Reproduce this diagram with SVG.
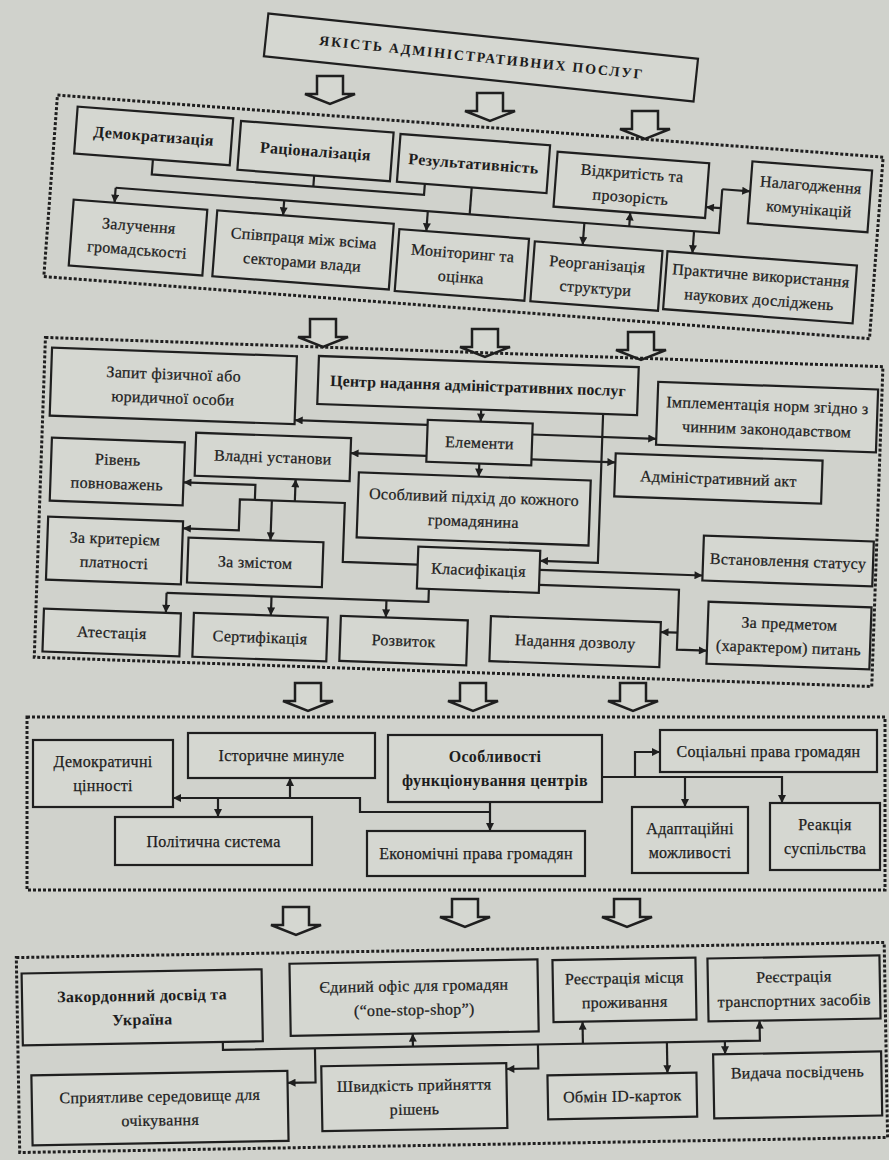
<svg xmlns="http://www.w3.org/2000/svg" width="889" height="1160" viewBox="0 0 889 1160">
<defs>
<marker id="ah" viewBox="0 0 10 10" refX="10" refY="5" markerWidth="9" markerHeight="8" markerUnits="userSpaceOnUse" orient="auto"><path d="M0,0 L10,5 L0,10 Z" fill="#1f1f1f"/></marker>
<path id="bigArrow" d="M-13,0 H13 V18 H25 L0,28 L-25,18 H-13 Z"/>
<style>
.box{fill:#d5d7d1;stroke:#1f1f1f;stroke-width:2.2}
.frame{fill:none;stroke:#1f1f1f;stroke-width:3;stroke-dasharray:3 2}
.t{font-family:"Liberation Serif","DejaVu Serif",serif;font-size:16px;letter-spacing:0.3px;fill:#1d1d1d;stroke:#1d1d1d;stroke-width:0.25px;text-anchor:middle}
.b{font-weight:bold;stroke-width:0}
.c{fill:none;stroke:#1f1f1f;stroke-width:2.2}
.a{marker-end:url(#ah)}
.big{fill:#d5d7d1;stroke:#1f1f1f;stroke-width:2.5}
</style>
</defs>
<rect width="889" height="1160" fill="#d0d2cc"/>

<g id="title" transform="rotate(6 481 57)">
<rect class="box" x="265" y="36" width="432" height="43"/>
<text class="t b" x="481" y="62" textLength="325" style="font-size:14px">ЯКІСТЬ АДМІНІСТРАТИВНИХ ПОСЛУГ</text>
</g>

<g id="flow-arrows">
<use href="#bigArrow" class="big" transform="translate(330,76)"/>
<use href="#bigArrow" class="big" transform="translate(490,93)"/>
<use href="#bigArrow" class="big" transform="translate(645,111)"/>
<use href="#bigArrow" class="big" transform="translate(323,319)"/>
<use href="#bigArrow" class="big" transform="translate(485,329)"/>
<use href="#bigArrow" class="big" transform="translate(641,332)"/>
<use href="#bigArrow" class="big" transform="translate(308,683)"/>
<use href="#bigArrow" class="big" transform="translate(473,683)"/>
<use href="#bigArrow" class="big" transform="translate(633,683)"/>
<use href="#bigArrow" class="big" transform="translate(296,907)"/>
<use href="#bigArrow" class="big" transform="translate(465,899)"/>
<use href="#bigArrow" class="big" transform="translate(627,899)"/>
</g>

<g id="section1" transform="rotate(4.3 465 210)">
<rect class="frame" x="50" y="126" width="828" height="182"/>
<g id="connectors-1">
<path class="c" d="M150,183 V198 H423 V187"/>
<path class="c" d="M312,187 V198"/>
<path class="c" d="M470,187 V214"/>
<path class="c" d="M115,214 H720 V170"/>
<path class="c a" d="M720,170 H748"/>
<path class="c a" d="M720,189 H705"/>
<path class="c a" d="M115,214 V229"/>
<path class="c a" d="M284,214 V229"/>
<path class="c a" d="M428,214 V234"/>
<path class="c a" d="M585,214 V236"/>
<path class="c a" d="M695,214 V236"/>
<path class="c a" d="M630,214 V200"/>
</g>
<g id="n-demokratyzatsiia"><rect class="box" x="71" y="136" width="156" height="47"/><text class="t b" x="149" y="165">Демократизація</text></g>
<g id="n-ratsionalizatsiia"><rect class="box" x="235" y="138" width="153" height="49"/><text class="t b" x="311.5" y="168">Раціоналізація</text></g>
<g id="n-rezultatyvnist"><rect class="box" x="395" y="139" width="150" height="48"/><text class="t b" x="470" y="168.5">Результативність</text></g>
<g id="n-vidkrytist"><rect class="box" x="553" y="145" width="152" height="55"/><text class="t" x="629" y="166">Відкритість та</text><text class="t" x="629" y="190">прозорість</text></g>
<g id="n-nalagodzhennia"><rect class="box" x="748" y="140" width="120" height="62"/><text class="t" x="808" y="164.5">Налагодження</text><text class="t" x="808" y="188.5">комунікацій</text></g>
<g id="n-zaluchennia"><rect class="box" x="74" y="229" width="134" height="66"/><text class="t" x="141" y="255.5">Залучення</text><text class="t" x="141" y="279.5">громадськості</text></g>
<g id="n-spivpratsia"><rect class="box" x="218" y="229" width="177" height="66"/><text class="t" x="306.5" y="255.5">Співпраця між всіма</text><text class="t" x="306.5" y="279.5">секторами влади</text></g>
<g id="n-monitoryng"><rect class="box" x="401" y="234" width="130" height="62"/><text class="t" x="466" y="258.5">Моніторинг та</text><text class="t" x="466" y="282.5">оцінка</text></g>
<g id="n-reorganizatsiia"><rect class="box" x="537" y="236" width="128" height="60"/><text class="t" x="601" y="259.5">Реорганізація</text><text class="t" x="601" y="283.5">структури</text></g>
<g id="n-praktychne"><rect class="box" x="670" y="236" width="190" height="58"/><text class="t" x="765" y="258.5">Практичне використання</text><text class="t" x="765" y="282.5">наукових досліджень</text></g>
</g>

<g id="section2" transform="rotate(2 460 500)">
<rect class="frame" x="40" y="352" width="838" height="320"/>
<g id="connectors-2">
<path class="c a" d="M478,409 V421"/>
<path class="c a" d="M425,426 H292"/>
<path class="c a" d="M425,457 H349"/>
<path class="c a" d="M530,432 H654"/>
<path class="c a" d="M530,457 H614"/>
<path class="c a" d="M478,463 V476"/>
<path class="c a" d="M600,409 V558 H542"/>
<path class="c a" d="M542,567 H705"/>
<path class="c a" d="M542,582 H682 V642 H712"/>
<path class="c a" d="M682,625 H665"/>
<path class="c" d="M432,590 V603 H170"/>
<path class="c a" d="M170,603 V623"/>
<path class="c a" d="M275,603 V622"/>
<path class="c a" d="M390,603 V620"/>
<path class="c a" d="M420,566 H345 V507 H240 V538 H184"/>
<path class="c a" d="M295,507 V485"/>
<path class="c a" d="M272,507 V547"/>
<path class="c a" d="M255,507 V492 H183"/>
</g>
<g id="n-zapyt"><rect class="box" x="47" y="362" width="245" height="68"/><text class="t" x="169.5" y="389.5">Запит фізичної або</text><text class="t" x="169.5" y="413.5">юридичної особи</text></g>
<g id="n-tsentr"><rect class="box" x="314" y="361" width="320" height="48"/><text class="t b" x="474" y="390.5" style="letter-spacing:0">Центр надання адміністративних послуг</text></g>
<g id="n-vladni"><rect class="box" x="194" y="442" width="155" height="43"/><text class="t" x="271.5" y="469">Владні установи</text></g>
<g id="n-riven"><rect class="box" x="50" y="452" width="133" height="63"/><text class="t" x="116.5" y="477">Рівень</text><text class="t" x="116.5" y="501">повноважень</text></g>
<g id="n-elementy"><rect class="box" x="425" y="421" width="105" height="42"/><text class="t" x="477.5" y="447.5">Елементи</text></g>
<g id="n-osoblyvyi"><rect class="box" x="358" y="476" width="232" height="65"/><text class="t" x="474" y="502">Особливий підхід до кожного</text><text class="t" x="474" y="526">громадянина</text></g>
<g id="n-implementatsiia"><rect class="box" x="654" y="375" width="220" height="63"/><text class="t" x="764" y="400">Імплементація норм згідно з</text><text class="t" x="764" y="424">чинним законодавством</text></g>
<g id="n-akt"><rect class="box" x="614" y="448" width="207" height="43"/><text class="t" x="717.5" y="475">Адміністративний акт</text></g>
<g id="n-platnist"><rect class="box" x="49" y="531" width="135" height="63"/><text class="t" x="116.5" y="556">За критерієм</text><text class="t" x="116.5" y="580">платності</text></g>
<g id="n-zmist"><rect class="box" x="190" y="547" width="135" height="45"/><text class="t" x="257.5" y="575">За змістом</text></g>
<g id="n-klasyfikatsiia"><rect class="box" x="420" y="548" width="122" height="42"/><text class="t" x="481" y="574.5">Класифікація</text></g>
<g id="n-status"><rect class="box" x="705" y="527" width="170" height="45"/><text class="t" x="790" y="555">Встановлення статусу</text></g>
<g id="n-atestatsiia"><rect class="box" x="48" y="623" width="137" height="43"/><text class="t" x="116.5" y="650">Атестація</text></g>
<g id="n-sertyfikatsiia"><rect class="box" x="198" y="622" width="134" height="44"/><text class="t" x="265" y="649.5">Сертифікація</text></g>
<g id="n-rozvytok"><rect class="box" x="345" y="620" width="127" height="45"/><text class="t" x="408.5" y="648">Розвиток</text></g>
<g id="n-dozvil"><rect class="box" x="495" y="615" width="170" height="45"/><text class="t" x="580" y="643">Надання дозволу</text></g>
<g id="n-predmet"><rect class="box" x="712" y="593" width="163" height="62"/><text class="t" x="793.5" y="617.5">За предметом</text><text class="t" x="793.5" y="641.5">(характером) питань</text></g>
</g>

<g id="section3">
<rect class="frame" x="27" y="717" width="858" height="173"/>
<g id="connectors-3">
<path class="c a" d="M490,812 H360 V798 H173"/>
<path class="c a" d="M290,798 V778"/>
<path class="c a" d="M218,798 V817"/>
<path class="c a" d="M490,802 V831"/>
<path class="c a" d="M602,777 H782 V803"/>
<path class="c a" d="M635,777 V752 H660"/>
<path class="c a" d="M685,777 V807"/>
</g>
<g id="n-demokratychni"><rect class="box" x="33" y="740" width="140" height="67"/><text class="t" x="103" y="767">Демократичні</text><text class="t" x="103" y="791">цінності</text></g>
<g id="n-istorychne"><rect class="box" x="188" y="733" width="187" height="45"/><text class="t" x="281.5" y="761">Історичне минуле</text></g>
<g id="n-politychna"><rect class="box" x="115" y="817" width="197" height="48"/><text class="t" x="213.5" y="846.5">Політична система</text></g>
<g id="n-osoblyvosti"><rect class="box" x="388" y="735" width="214" height="67"/><text class="t b" x="495" y="762">Особливості</text><text class="t b" x="495" y="786">функціонування центрів</text></g>
<g id="n-ekonomichni"><rect class="box" x="367" y="831" width="218" height="45"/><text class="t" x="476" y="859">Економічні права громадян</text></g>
<g id="n-sotsialni"><rect class="box" x="660" y="730" width="217" height="42"/><text class="t" x="768.5" y="756.5">Соціальні права громадян</text></g>
<g id="n-adaptatsiini"><rect class="box" x="632" y="807" width="116" height="66"/><text class="t" x="690" y="833.5">Адаптаційні</text><text class="t" x="690" y="857.5">можливості</text></g>
<g id="n-reaktsiia"><rect class="box" x="770" y="803" width="110" height="67"/><text class="t" x="825" y="830">Реакція</text><text class="t" x="825" y="854">суспільства</text></g>
</g>

<g id="section4" transform="rotate(-1 450 1050)">
<rect class="frame" x="18" y="950" width="868" height="195"/>
<g id="connectors-4">
<path class="c a" d="M223,1038 V1046 H760 V1026"/>
<path class="c a" d="M413,1046 V1033"/>
<path class="c a" d="M315,1046 V1080 H287"/>
<path class="c a" d="M583,1046 V1024"/>
<path class="c a" d="M667,1046 V1077"/>
<path class="c a" d="M725,1046 V1059"/>
<path class="c a" d="M538,1046 V1070 H506"/>
</g>
<g id="n-zakordonnyi"><rect class="box" x="23" y="966" width="240" height="72"/><text class="t b" x="143" y="995.5">Закордонний досвід та</text><text class="t b" x="143" y="1019.5">Україна</text></g>
<g id="n-yedynyi-ofis"><rect class="box" x="291" y="961" width="248" height="72"/><text class="t" x="415" y="990.5">Єдиний офіс для громадян</text><text class="t" x="415" y="1014.5">(“one-stop-shop”)</text></g>
<g id="n-reiestratsiia-mistsia"><rect class="box" x="554" y="962" width="143" height="62"/><text class="t" x="625.5" y="986.5">Реєстрація місця</text><text class="t" x="625.5" y="1010.5">проживання</text></g>
<g id="n-reiestratsiia-transport"><rect class="box" x="709" y="963" width="172" height="63"/><text class="t" x="795" y="988">Реєстрація</text><text class="t" x="795" y="1012">транспортних засобів</text></g>
<g id="n-spryiatlyve"><rect class="box" x="31" y="1068" width="256" height="70"/><text class="t" x="159" y="1096.5">Сприятливе середовище для</text><text class="t" x="159" y="1120.5">очікування</text></g>
<g id="n-shvydkist"><rect class="box" x="321" y="1064" width="185" height="65"/><text class="t" x="413.5" y="1090">Швидкість прийняття</text><text class="t" x="413.5" y="1114">рішень</text></g>
<g id="n-obmin"><rect class="box" x="547" y="1077" width="149" height="44"/><text class="t" x="621.5" y="1104.5">Обмін ID-карток</text></g>
<g id="n-vydacha"><rect class="box" x="713" y="1059" width="168" height="64"/><text class="t" x="797" y="1083.5">Видача посвідчень</text></g>
</g>
</svg>
